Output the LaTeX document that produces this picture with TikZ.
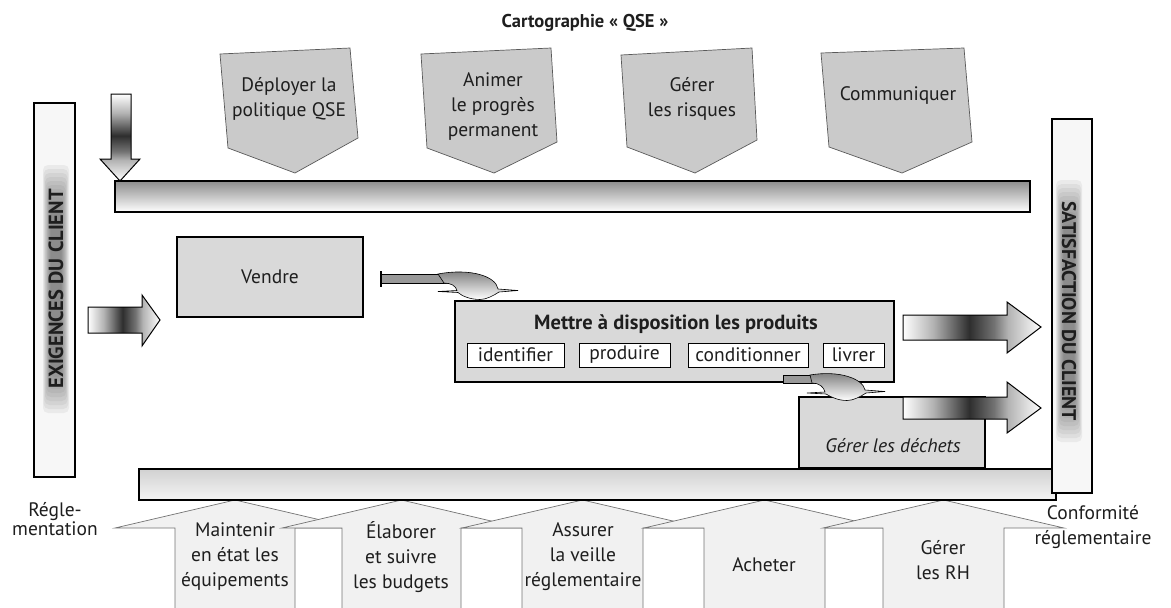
\documentclass[tikz,border=0pt]{standalone}
\usepackage{fontspec}
\setmainfont{PT Sans}
% shading used inside the block arrows: light ends, dark core, pale head
\pgfdeclarehorizontalshading{flowshade}{100bp}{color(0bp)=(white); color(25bp)=(white); color(36bp)=(black!30); color(49bp)=(black!82); color(58bp)=(black!55); color(63bp)=(black!30); color(75bp)=(white); color(100bp)=(white)}
\definecolor{ink}{HTML}{1E1E1E}
\definecolor{boxgray}{HTML}{D9D9D9}
\definecolor{chevgray}{HTML}{CACACA}
\definecolor{housegray}{HTML}{F1F1F1}
\begin{document}
\begin{tikzpicture}[x=1pt,y=-1pt,
  txt/.style={font=\fontsize{19.5}{25}\selectfont, text=ink, align=center, inner sep=0pt},
  boldtxt/.style={font=\bfseries\fontsize{18}{22}\selectfont, text=ink, align=center, inner sep=0pt},
  chevron/.style={fill=chevgray, draw=black!65, line width=0.7},
  house/.style={fill=housegray, draw=black!55, line width=0.7},
  procbox/.style={fill=boxgray, draw=black, line width=1.1, rectangle, inner sep=0pt},
  subbox/.style={fill=white, draw=black, line width=0.9, rectangle, inner sep=0pt, minimum height=24pt,
    font=\fontsize{19.5}{22}\selectfont, text=ink},
  barframe/.style={draw=black, line width=1.2},
  flow/.style={shading=flowshade, draw=black, line width=1},
  hook/.style={top color=black!55, bottom color=white, draw=black, line width=0.6},
]
\path[use as bounding box] (0,0) rectangle (1171,608);
\clip (0,0) rectangle (1171,608);

% title
\node[boldtxt, font=\bfseries\fontsize{18.5}{20}\selectfont] (title) at (585,23) {Cartographie « QSE »};

% management processes (top chevrons)
\filldraw[chevron] (220,54) -- (350,48) -- (358,138) -- (295,173) -- (228,148) -- cycle;
\filldraw[chevron] (421,54) -- (551,48) -- (557,142) -- (494,173) -- (427,148) -- cycle;
\filldraw[chevron] (621,55) -- (752,48) -- (757,140) -- (695,173) -- (627,147) -- cycle;
\filldraw[chevron] (821,53) -- (964,48) -- (972,142) -- (902,173) -- (829,147) -- cycle;
\node[txt] (deployer) at (289,99) {Déployer la\\politique QSE};
\node[txt] (animer) at (493,107) {Animer\\le progrès\\permanent};
\node[txt] (risques) at (692,99) {Gérer\\les risques};
\node[txt] (communiquer) at (898,96) {Communiquer};

% support processes (bottom houses), drawn left to right so each covers the previous one
\foreach \bl/\br in {175/295, 342/461, 522/643, 704/825, 883/1004}{
  \pgfmathsetmacro\ap{(\bl+\br)/2}
  \filldraw[house] (\bl-60,528) -- (\ap,500) -- (\br+60,528) -- (\br,528) -- (\br,615) -- (\bl,615) -- (\bl,528) -- cycle;
}
\node[txt] (maintenir) at (235,557) {Maintenir\\en état les\\équipements};
\node[txt] (elaborer) at (401,557) {Élaborer\\et suivre\\les budgets};
\node[txt] (veille) at (583,557) {Assurer\\la veille\\réglementaire};
\node[txt] (acheter) at (764,565) {Acheter};
\node[txt] (rh) at (943,560) {Gérer\\les RH};

% horizontal frame bars
\shade[top color=black!45, middle color=black!6, bottom color=white] (115,181) rectangle (1030,212);
\draw[barframe] (115,181) rectangle (1030,212);
\shade[top color=black!18, middle color=white, bottom color=black!4] (139,469) rectangle (1056,500);
\draw[barframe] (139,469) rectangle (1056,500);

% vertical client bars with a soft glow behind the label
\shade[top color=black!3, middle color=black!20, bottom color=black!3] (34,103) rectangle (75,477);
\foreach \i in {0,...,11}{
  \fill[black!75, opacity=0.065, rounded corners=5pt] (43+\i*0.7,165+\i*4) rectangle (69-\i*0.7,413-\i*4);
}
\draw[barframe] (34,103) rectangle (75,477);
\node[boldtxt, rotate=90, font=\bfseries\fontsize{20.5}{22}\selectfont] (exigences) at (56,289) {EXIGENCES DU CLIENT};

\shade[top color=black!3, middle color=black!20, bottom color=black!3] (1052,119) rectangle (1092,493);
\foreach \i in {0,...,11}{
  \fill[black!75, opacity=0.065, rounded corners=5pt] (1056+\i*0.7,180+\i*4) rectangle (1082-\i*0.7,442-\i*4);
}
\draw[barframe] (1052,119) rectangle (1092,493);
\node[boldtxt, rotate=-90, font=\bfseries\fontsize{19.8}{22}\selectfont] (satisfaction) at (1069,311) {SATISFACTION DU CLIENT};

% side labels
\node[txt, font=\fontsize{19.5}{18.5}\selectfont] (reglementation) at (55,519) {Régle-\\mentation};
\node[txt] (conformite) at (1093,527) {Conformité\\réglementaire};

% realisation processes
\node[procbox, minimum width=186pt, minimum height=80pt, txt] (vendre) at (270,277) {Vendre};
\node[procbox, minimum width=439pt, minimum height=81pt] (mettre) at (674.5,341.5) {};
\node[boldtxt, font=\bfseries\fontsize{20.5}{22}\selectfont] (mettretitle) at (676,324) {Mettre à disposition les produits};
\node[subbox, minimum width=97pt] (identifier) at (515.5,355) {identifier};
\node[subbox, minimum width=91pt] (produire) at (624.5,355) {produire};
\node[subbox, minimum width=120pt] (conditionner) at (748,355) {conditionner};
\node[subbox, minimum width=61pt] (livrer) at (853.5,355) {livrer};
\node[procbox, minimum width=186pt, minimum height=71pt] (dechets) at (892,432.5) {};
\node[txt, font=\itshape\fontsize{19.5}{22}\selectfont] (dechetstxt) at (893,446) {Gérer les déchets};

% block arrows
\shadedraw[flow, shading angle=-90] (111,94) -- (131,94) -- (131,159) -- (140,159) -- (120,181) -- (100,159) -- (111,159) -- cycle;
\shadedraw[flow] (88,307) -- (142,307) -- (142,295) -- (160,320) -- (142,346) -- (142,333) -- (88,333) -- cycle;
\shadedraw[flow] (903,315) -- (1007,315) -- (1007,302) -- (1041,327) -- (1007,353) -- (1007,340) -- (903,340) -- cycle;
\shadedraw[flow] (903,397) -- (1007,397) -- (1007,382) -- (1041,408) -- (1007,433) -- (1007,419) -- (903,419) -- cycle;

% hooked arrow from Vendre down onto the product box
\filldraw[fill=black!40, draw=black, line width=0.7] (381,274) rectangle (447,283);
\draw[line width=1.3] (381,271) -- (381,287);
\shadedraw[hook] (438,274) .. controls (470,268) and (496,276) .. (498,289) -- (518,290.5) -- (499,292)
  .. controls (493,296) and (486,299.5) .. (480,299.5) .. controls (470,299.5) and (462,296) .. (458,292.5)
  -- (438,291.5) -- (457,290.5) .. controls (456,286) and (451,283) .. (444,283) -- cycle;

% hooked arrow from the product box down onto waste handling
\filldraw[fill=black!40, draw=black, line width=0.7] (783,375) rectangle (818,383);
\shadedraw[hook] (810,375) .. controls (840,370) and (863,379) .. (865,390) -- (885,391.5) -- (866,393)
  .. controls (860,397) and (853,400.5) .. (847,400.5) .. controls (838,400.5) and (831,397) .. (826,394)
  -- (807,393) -- (825,392) .. controls (824,387) and (819,383) .. (812,383) -- cycle;
\end{tikzpicture}
\end{document}
